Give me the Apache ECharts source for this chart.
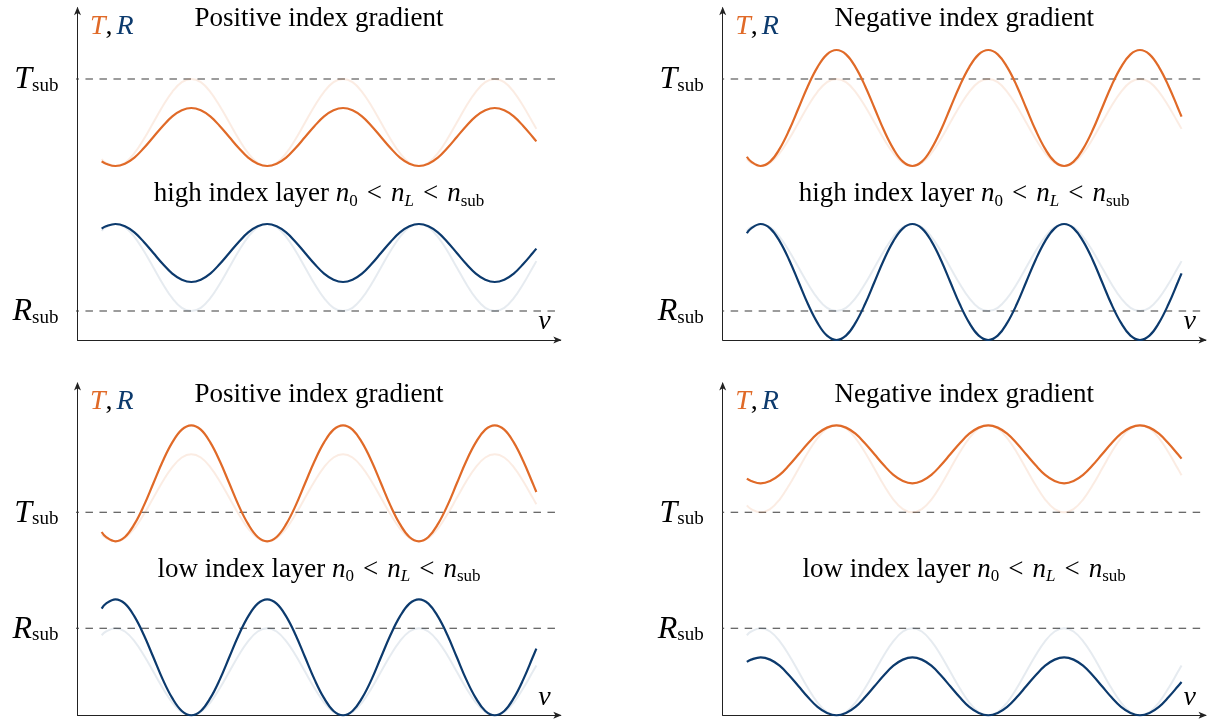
<!DOCTYPE html>
<html>
<head>
<meta charset="utf-8">
<script src="https://cdn.jsdelivr.net/npm/echarts@6/dist/echarts.min.js"></script>
<style>
  html, body { margin: 0; padding: 0; background: #ffffff; }
  #chart { width: 1209px; height: 725px; }
</style>
</head>
<body>
<div id="chart"></div>
<script>
// Normalised frequency samples shared by every curve
const nu = [0.5, 0.589, 0.785, 0.982, 1.178, 1.374, 1.571, 1.767, 1.963, 2.160, 2.356, 2.553, 2.749, 2.945,
            3.142, 3.338, 3.534, 3.731, 3.927, 4.123, 4.320, 4.516, 4.712, 4.909, 5.105, 5.301, 5.498, 5.694,
            5.890, 6.087, 6.283, 6.480, 6.676, 6.872, 7.069, 7.265, 7.461, 7.658, 7.854, 8.050, 8.247, 8.443,
            8.639, 8.836, 9.032, 9.228, 9.425, 9.5];

// High index layer, positive gradient
const tHighPos = [0.616,
  0.608, 0.6, 0.608, 0.629, 0.662, 0.7, 0.738, 0.771, 0.792, 0.8, 0.792, 0.771, 0.738, 0.7, 0.662, 0.629,
  0.608, 0.6, 0.608, 0.629, 0.662, 0.7, 0.738, 0.771, 0.792, 0.8, 0.792, 0.771, 0.738, 0.7, 0.662, 0.629,
  0.608, 0.6, 0.608, 0.629, 0.662, 0.7, 0.738, 0.771, 0.792, 0.8, 0.792, 0.771, 0.738, 0.7, 0.685];
const tHighPosRef = [0.624,
  0.611, 0.6, 0.611, 0.644, 0.693, 0.75, 0.807, 0.856, 0.889, 0.9, 0.889, 0.856, 0.807, 0.75, 0.693, 0.644,
  0.611, 0.6, 0.611, 0.644, 0.693, 0.75, 0.807, 0.856, 0.889, 0.9, 0.889, 0.856, 0.807, 0.75, 0.693, 0.644,
  0.611, 0.6, 0.611, 0.644, 0.693, 0.75, 0.807, 0.856, 0.889, 0.9, 0.889, 0.856, 0.807, 0.75, 0.728];
const rHighPos = [0.384,
  0.392, 0.4, 0.392, 0.371, 0.338, 0.3, 0.262, 0.229, 0.208, 0.2, 0.208, 0.229, 0.262, 0.3, 0.338, 0.371,
  0.392, 0.4, 0.392, 0.371, 0.338, 0.3, 0.262, 0.229, 0.208, 0.2, 0.208, 0.229, 0.262, 0.3, 0.338, 0.371,
  0.392, 0.4, 0.392, 0.371, 0.338, 0.3, 0.262, 0.229, 0.208, 0.2, 0.208, 0.229, 0.262, 0.3, 0.315];
const rHighPosRef = [0.376,
  0.389, 0.4, 0.389, 0.356, 0.307, 0.25, 0.193, 0.144, 0.111, 0.1, 0.111, 0.144, 0.193, 0.25, 0.307, 0.356,
  0.389, 0.4, 0.389, 0.356, 0.307, 0.25, 0.193, 0.144, 0.111, 0.1, 0.111, 0.144, 0.193, 0.25, 0.307, 0.356,
  0.389, 0.4, 0.389, 0.356, 0.307, 0.25, 0.193, 0.144, 0.111, 0.1, 0.111, 0.144, 0.193, 0.25, 0.272];

// High index layer, negative gradient
const tHighNeg = [0.632,
  0.615, 0.6, 0.615, 0.659, 0.723, 0.8, 0.877, 0.941, 0.985, 1.0, 0.985, 0.941, 0.877, 0.8, 0.723, 0.659,
  0.615, 0.6, 0.615, 0.659, 0.723, 0.8, 0.877, 0.941, 0.985, 1.0, 0.985, 0.941, 0.877, 0.8, 0.723, 0.659,
  0.615, 0.6, 0.615, 0.659, 0.723, 0.8, 0.877, 0.941, 0.985, 1.0, 0.985, 0.941, 0.877, 0.8, 0.770];
const tHighNegRef = [0.624,
  0.611, 0.6, 0.611, 0.644, 0.693, 0.75, 0.807, 0.856, 0.889, 0.9, 0.889, 0.856, 0.807, 0.75, 0.693, 0.644,
  0.611, 0.6, 0.611, 0.644, 0.693, 0.75, 0.807, 0.856, 0.889, 0.9, 0.889, 0.856, 0.807, 0.75, 0.693, 0.644,
  0.611, 0.6, 0.611, 0.644, 0.693, 0.75, 0.807, 0.856, 0.889, 0.9, 0.889, 0.856, 0.807, 0.75, 0.728];
const rHighNeg = [0.368,
  0.385, 0.4, 0.385, 0.341, 0.277, 0.2, 0.123, 0.059, 0.015, 0.0, 0.015, 0.059, 0.123, 0.2, 0.277, 0.341,
  0.385, 0.4, 0.385, 0.341, 0.277, 0.2, 0.123, 0.059, 0.015, 0.0, 0.015, 0.059, 0.123, 0.2, 0.277, 0.341,
  0.385, 0.4, 0.385, 0.341, 0.277, 0.2, 0.123, 0.059, 0.015, 0.0, 0.015, 0.059, 0.123, 0.2, 0.230];
const rHighNegRef = [0.376,
  0.389, 0.4, 0.389, 0.356, 0.307, 0.25, 0.193, 0.144, 0.111, 0.1, 0.111, 0.144, 0.193, 0.25, 0.307, 0.356,
  0.389, 0.4, 0.389, 0.356, 0.307, 0.25, 0.193, 0.144, 0.111, 0.1, 0.111, 0.144, 0.193, 0.25, 0.307, 0.356,
  0.389, 0.4, 0.389, 0.356, 0.307, 0.25, 0.193, 0.144, 0.111, 0.1, 0.111, 0.144, 0.193, 0.25, 0.272];

// Low index layer, positive gradient
const tLowPos = [0.632,
  0.615, 0.6, 0.615, 0.659, 0.723, 0.8, 0.877, 0.941, 0.985, 1.0, 0.985, 0.941, 0.877, 0.8, 0.723, 0.659,
  0.615, 0.6, 0.615, 0.659, 0.723, 0.8, 0.877, 0.941, 0.985, 1.0, 0.985, 0.941, 0.877, 0.8, 0.723, 0.659,
  0.615, 0.6, 0.615, 0.659, 0.723, 0.8, 0.877, 0.941, 0.985, 1.0, 0.985, 0.941, 0.877, 0.8, 0.770];
const tLowPosRef = [0.624,
  0.611, 0.6, 0.611, 0.644, 0.693, 0.75, 0.807, 0.856, 0.889, 0.9, 0.889, 0.856, 0.807, 0.75, 0.693, 0.644,
  0.611, 0.6, 0.611, 0.644, 0.693, 0.75, 0.807, 0.856, 0.889, 0.9, 0.889, 0.856, 0.807, 0.75, 0.693, 0.644,
  0.611, 0.6, 0.611, 0.644, 0.693, 0.75, 0.807, 0.856, 0.889, 0.9, 0.889, 0.856, 0.807, 0.75, 0.728];
const rLowPos = [0.368,
  0.385, 0.4, 0.385, 0.341, 0.277, 0.2, 0.123, 0.059, 0.015, 0.0, 0.015, 0.059, 0.123, 0.2, 0.277, 0.341,
  0.385, 0.4, 0.385, 0.341, 0.277, 0.2, 0.123, 0.059, 0.015, 0.0, 0.015, 0.059, 0.123, 0.2, 0.277, 0.341,
  0.385, 0.4, 0.385, 0.341, 0.277, 0.2, 0.123, 0.059, 0.015, 0.0, 0.015, 0.059, 0.123, 0.2, 0.230];
const rLowPosRef = [0.276,
  0.289, 0.3, 0.289, 0.256, 0.207, 0.15, 0.093, 0.044, 0.011, 0.0, 0.011, 0.044, 0.093, 0.15, 0.207, 0.256,
  0.289, 0.3, 0.289, 0.256, 0.207, 0.15, 0.093, 0.044, 0.011, 0.0, 0.011, 0.044, 0.093, 0.15, 0.207, 0.256,
  0.289, 0.3, 0.289, 0.256, 0.207, 0.15, 0.093, 0.044, 0.011, 0.0, 0.011, 0.044, 0.093, 0.15, 0.172];

// Low index layer, negative gradient
const tLowNeg = [0.816,
  0.808, 0.8, 0.808, 0.829, 0.862, 0.9, 0.938, 0.971, 0.992, 1.0, 0.992, 0.971, 0.938, 0.9, 0.862, 0.829,
  0.808, 0.8, 0.808, 0.829, 0.862, 0.9, 0.938, 0.971, 0.992, 1.0, 0.992, 0.971, 0.938, 0.9, 0.862, 0.829,
  0.808, 0.8, 0.808, 0.829, 0.862, 0.9, 0.938, 0.971, 0.992, 1.0, 0.992, 0.971, 0.938, 0.9, 0.885];
const tLowNegRef = [0.724,
  0.711, 0.7, 0.711, 0.744, 0.793, 0.85, 0.907, 0.956, 0.989, 1.0, 0.989, 0.956, 0.907, 0.85, 0.793, 0.744,
  0.711, 0.7, 0.711, 0.744, 0.793, 0.85, 0.907, 0.956, 0.989, 1.0, 0.989, 0.956, 0.907, 0.85, 0.793, 0.744,
  0.711, 0.7, 0.711, 0.744, 0.793, 0.85, 0.907, 0.956, 0.989, 1.0, 0.989, 0.956, 0.907, 0.85, 0.828];
const rLowNeg = [0.184,
  0.192, 0.2, 0.192, 0.171, 0.138, 0.1, 0.062, 0.029, 0.008, 0.0, 0.008, 0.029, 0.062, 0.1, 0.138, 0.171,
  0.192, 0.2, 0.192, 0.171, 0.138, 0.1, 0.062, 0.029, 0.008, 0.0, 0.008, 0.029, 0.062, 0.1, 0.138, 0.171,
  0.192, 0.2, 0.192, 0.171, 0.138, 0.1, 0.062, 0.029, 0.008, 0.0, 0.008, 0.029, 0.062, 0.1, 0.115];
const rLowNegRef = [0.276,
  0.289, 0.3, 0.289, 0.256, 0.207, 0.15, 0.093, 0.044, 0.011, 0.0, 0.011, 0.044, 0.093, 0.15, 0.207, 0.256,
  0.289, 0.3, 0.289, 0.256, 0.207, 0.15, 0.093, 0.044, 0.011, 0.0, 0.011, 0.044, 0.093, 0.15, 0.207, 0.256,
  0.289, 0.3, 0.289, 0.256, 0.207, 0.15, 0.093, 0.044, 0.011, 0.0, 0.011, 0.044, 0.093, 0.15, 0.172];

// Substrate reference levels per panel
const tSubLevels = [0.9, 0.9, 0.7, 0.7];
const rSubLevels = [0.1, 0.1, 0.3, 0.3];

// Panel texts
const titles = ['Positive index gradient', 'Negative index gradient', 'Positive index gradient', 'Negative index gradient'];
const layerWords = ['high index layer ', 'high index layer ', 'low index layer ', 'low index layer '];

// ---- styling and layout ----
const SERIF = '"Liberation Serif", "DejaVu Serif", serif';
const ORANGE = '#E06A28';
const BLUE = '#0C3A6D';
const ORANGE_LIGHT = 'rgba(224,106,40,0.13)';
const BLUE_LIGHT = 'rgba(12,58,109,0.10)';
const AXIS = '#222';
const DASH = '#3a3a3a';
const ARROW = 'path://M5,0 L10,12 L5,9 L0,12 Z';

const X_MAX = 10, Y_MAX = 1.145;
const GRID_W = 483, PX_PER_UNIT = 290, GRID_H = PX_PER_UNIT * Y_MAX;
const origins = [[77.5, 340], [722.7, 340], [77.5, 715.3], [722.7, 715.3]];

const curves = [
  [tHighPos, tHighPosRef, rHighPos, rHighPosRef],
  [tHighNeg, tHighNegRef, rHighNeg, rHighNegRef],
  [tLowPos, tLowPosRef, rLowPos, rLowPosRef],
  [tLowNeg, tLowNegRef, rLowNeg, rLowNegRef]
];

const grids = [], xAxes = [], yAxes = [], series = [], graphics = [];

function pairs(ys) { return nu.map((v, k) => [v, ys[k]]); }

origins.forEach(([ox, oy], i) => {
  grids.push({ left: ox, top: oy - GRID_H, width: GRID_W, height: GRID_H });
  const axisLine = {
    show: true,
    symbol: ['none', ARROW],
    symbolSize: [7, 9],
    symbolOffset: [0, -3],
    lineStyle: { color: AXIS, width: 1 }
  };
  xAxes.push({
    gridIndex: i, type: 'value', min: 0, max: X_MAX,
    axisLine: axisLine, axisTick: { show: false }, axisLabel: { show: false }, splitLine: { show: false }
  });
  const tSub = tSubLevels[i], rSub = rSubLevels[i];
  yAxes.push({
    gridIndex: i, type: 'value', min: 0, max: Y_MAX,
    axisLine: axisLine, axisTick: { show: false }, splitLine: { show: false },
    axisLabel: {
      customValues: [rSub, tSub],
      margin: 19,
      formatter: v => (Math.abs(v - tSub) < 1e-6 ? '{v|T}{s|sub}' : '{v|R}{s|sub}'),
      rich: {
        v: { fontFamily: SERIF, fontStyle: 'italic', fontSize: 32, color: '#000', padding: [2, 0, 0, 0] },
        s: { fontFamily: SERIF, fontSize: 19, color: '#000', padding: [14, 0, 0, 0] }
      }
    }
  });

  // substrate levels
  [tSub, rSub].forEach(level => {
    series.push({
      type: 'line', xAxisIndex: i, yAxisIndex: i, clip: false, silent: true,
      showSymbol: false, symbol: 'none',
      data: [[-0.125, level], [X_MAX, level]],
      lineStyle: { color: DASH, width: 1.1, type: [7.5, 6.5] }
    });
  });

  const [t, tRef, r, rRef] = curves[i];
  const addCurve = (ys, color, width) => series.push({
    type: 'line', xAxisIndex: i, yAxisIndex: i, silent: true,
    smooth: 0.4, showSymbol: false, symbol: 'none',
    data: pairs(ys),
    lineStyle: { color: color, width: width }
  });
  addCurve(tRef, ORANGE_LIGHT, 2);
  addCurve(rRef, BLUE_LIGHT, 2);
  addCurve(t, ORANGE, 2.2);
  addCurve(r, BLUE, 2.2);

  const cx = ox + GRID_W / 2;
  // panel title
  graphics.push({
    type: 'text', x: cx, y: oy - 313 - 7.6, silent: true,
    style: { text: titles[i], fontFamily: SERIF, fontSize: 27, fill: '#000',
             align: 'center', textAlign: 'center', verticalAlign: 'middle', textVerticalAlign: 'middle' }
  });
  // layer description
  graphics.push({
    type: 'text', x: cx, y: oy - 139 - 6.6, silent: true,
    style: {
      text: '{a|' + layerWords[i] + '}{m|n}{s|0}{o|<}{m|n}{si|L}{o|<}{m|n}{s|sub}',
      align: 'center', textAlign: 'center', verticalAlign: 'middle', textVerticalAlign: 'middle',
      rich: {
        a: { fontFamily: SERIF, fontSize: 27, fill: '#000' },
        m: { fontFamily: SERIF, fontSize: 27, fontStyle: 'italic', fill: '#000' },
        o: { fontFamily: SERIF, fontSize: 27, fill: '#000', padding: [0, 9, 0, 9] },
        s: { fontFamily: SERIF, fontSize: 17, fill: '#000', padding: [14, 0, 0, 0] },
        si: { fontFamily: SERIF, fontSize: 17, fontStyle: 'italic', fill: '#000', padding: [14, 0, 0, 0] }
      }
    }
  });
  // T, R axis name
  graphics.push({
    type: 'text', x: ox + 12.5, y: oy - 305 - 8.4, silent: true,
    style: {
      text: '{t|T}{c|,}{r|R}',
      align: 'left', textAlign: 'left', verticalAlign: 'middle', textVerticalAlign: 'middle',
      rich: {
        t: { fontFamily: SERIF, fontSize: 28, fontStyle: 'italic', fill: ORANGE },
        c: { fontFamily: SERIF, fontSize: 28, fill: '#000', padding: [0, 4, 0, 0] },
        r: { fontFamily: SERIF, fontSize: 28, fontStyle: 'italic', fill: BLUE }
      }
    }
  });
  // frequency axis name
  graphics.push({
    type: 'text', x: ox + 467, y: oy - 10 - 8.1, silent: true,
    style: { text: 'ν', fontFamily: SERIF, fontSize: 28, fontStyle: 'italic', fill: '#000',
             align: 'center', textAlign: 'center', verticalAlign: 'middle', textVerticalAlign: 'middle' }
  });
});

const chart = echarts.init(document.getElementById('chart'), null, { renderer: 'canvas' });
chart.setOption({
  animation: false,
  backgroundColor: '#ffffff',
  grid: grids,
  xAxis: xAxes,
  yAxis: yAxes,
  series: series,
  graphic: { elements: graphics }
});
</script>
</body>
</html>
